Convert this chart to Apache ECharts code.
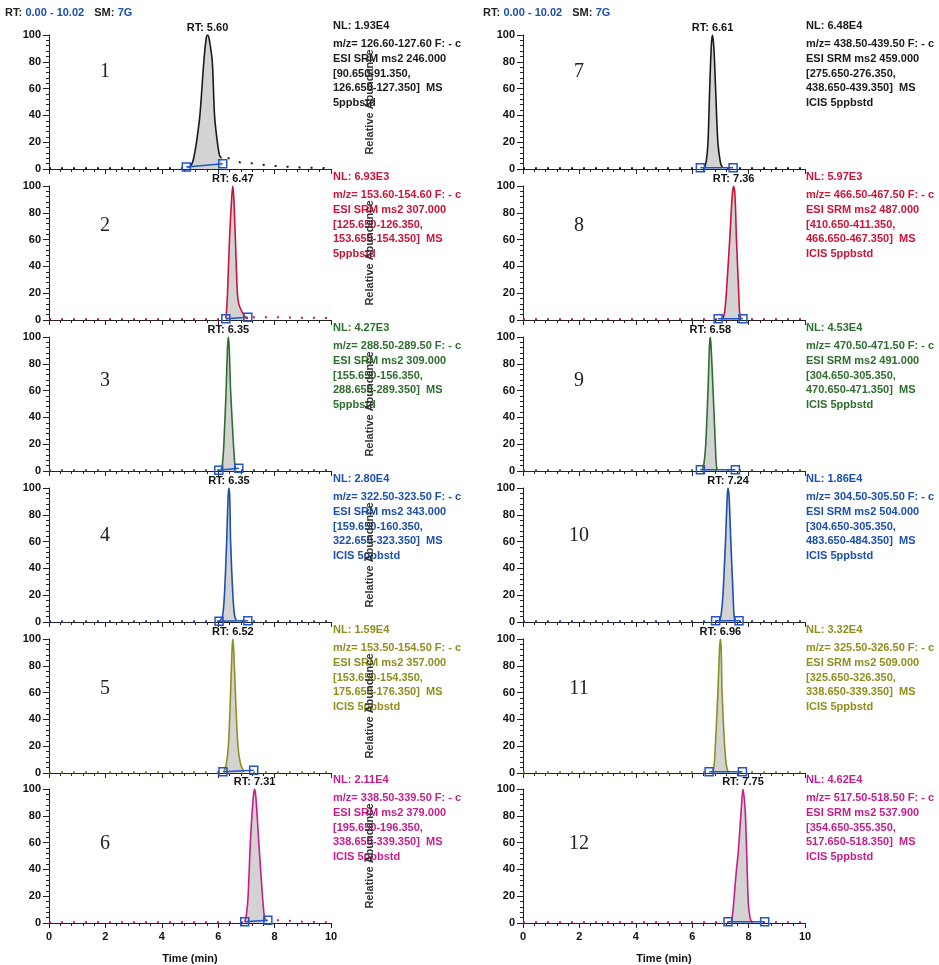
<!DOCTYPE html>
<html><head><meta charset="utf-8">
<script src="https://cdn.jsdelivr.net/npm/echarts@6/dist/echarts.min.js"></script>
<style>html,body{margin:0;padding:0;background:#fff}#c{width:939px;height:965px}</style>
</head><body><div id="c"></div>
<script>
// ---------- data ----------
const panelNames = ['1','2','3','4','5','6','7','8','9','10','11','12'];
const rtLabels = ['5.60','6.47','6.35','6.35','6.52','7.31','6.61','7.36','6.58','7.24','6.96','7.75'];
const nlLabels = ['1.93E4','6.93E3','4.27E3','2.80E4','1.59E4','2.11E4','6.48E4','5.97E3','4.53E4','1.86E4','3.32E4','4.62E4'];
const mzLabels = ['126.60-127.60','153.60-154.60','288.50-289.50','322.50-323.50','153.50-154.50','338.50-339.50',
                  '438.50-439.50','466.50-467.50','470.50-471.50','304.50-305.50','325.50-326.50','517.50-518.50'];
const precursorLabels = ['246.000','307.000','309.000','343.000','357.000','379.000',
                         '459.000','487.000','491.000','504.000','509.000','537.900'];
const rangeALabels = ['90.650-91.350','125.650-126.350','155.650-156.350','159.650-160.350','153.650-154.350','195.650-196.350',
                      '275.650-276.350','410.650-411.350','304.650-305.350','304.650-305.350','325.650-326.350','354.650-355.350'];
const rangeBLabels = ['126.650-127.350','153.650-154.350','288.650-289.350','322.650-323.350','175.650-176.350','338.650-339.350',
                      '438.650-439.350','466.650-467.350','470.650-471.350','483.650-484.350','338.650-339.350','517.650-518.350'];
const sampleLabels = ['5ppbstd','5ppbstd','5ppbstd','ICIS 5ppbstd','ICIS 5ppbstd','ICIS 5ppbstd',
                      'ICIS 5ppbstd','ICIS 5ppbstd','ICIS 5ppbstd','ICIS 5ppbstd','ICIS 5ppbstd','ICIS 5ppbstd'];
const timeRange = [0, 10];
const timeStep = 2;
const abundanceRange = [0, 100];
const abundanceStep = 20;

// peak traces [time (min), relative abundance %]
const peak1  = [[4.95,1],[5.05,3],[5.13,8],[5.23,20],[5.35,40],[5.49,80],[5.57,97],[5.62,100],[5.68,97],[5.79,80],[5.87,40],[5.97,20],[6.05,10],[6.12,8]];
const peak2  = [[6.27,1],[6.3,8],[6.33,20],[6.4,60],[6.48,92],[6.52,100],[6.56,88],[6.61,60],[6.68,20],[6.73,12],[6.8,8],[6.9,4],[7.0,1.5],[7.05,1]];
const peak3  = [[6.1,0.5],[6.15,5],[6.2,20],[6.28,60],[6.33,92],[6.36,100],[6.39,92],[6.44,60],[6.54,20],[6.59,5],[6.62,1]];
const peak4  = [[6.05,0.5],[6.15,4],[6.22,20],[6.3,60],[6.35,93],[6.38,100],[6.41,93],[6.44,60],[6.52,20],[6.58,5],[6.64,1]];
const peak5  = [[6.2,1],[6.28,6],[6.36,20],[6.44,60],[6.49,92],[6.52,100],[6.55,92],[6.61,60],[6.7,20],[6.8,6],[6.92,1]];
const peak6  = [[6.94,1],[7.0,6],[7.06,20],[7.14,60],[7.24,93],[7.29,100],[7.34,93],[7.44,60],[7.57,20],[7.63,6],[7.68,2]];
const peak7  = [[6.44,1],[6.5,6],[6.56,20],[6.62,60],[6.68,93],[6.72,100],[6.77,90],[6.83,60],[6.91,20],[7.0,5],[7.07,1]];
const peak8  = [[7.09,1],[7.15,6],[7.21,20],[7.33,60],[7.42,93],[7.47,100],[7.52,92],[7.57,60],[7.65,20],[7.68,6],[7.72,1]];
const peak9  = [[6.36,1],[6.42,6],[6.48,20],[6.56,60],[6.61,93],[6.64,100],[6.67,93],[6.74,60],[6.82,20],[6.85,6],[6.88,1]];
const peak10 = [[6.98,1],[7.03,6],[7.09,20],[7.18,60],[7.24,93],[7.27,100],[7.31,93],[7.37,60],[7.45,20],[7.48,6],[7.51,1]];
const peak11 = [[6.74,1],[6.78,6],[6.82,20],[6.91,60],[6.97,93],[7.0,100],[7.03,92],[7.06,60],[7.15,20],[7.21,6],[7.27,1]];
const peak12 = [[7.39,1],[7.45,10],[7.52,28],[7.57,40],[7.63,52],[7.73,82],[7.8,100],[7.85,92],[7.89,80],[7.95,40],[7.99,15],[8.05,4],[8.1,1]];

// baseline (outside the integrated peak)
const base1  = [[0,0.5],[4.87,0.5],[6.12,8],[6.41,8],[6.76,5],[7.23,4.2],[7.65,3],[8.06,2.2],[8.48,1.7],[8.9,1.2],[9.3,1],[10,0.5]];
const base2  = [[0,0.5],[6.27,0.5],[7.05,2],[8,2],[10,1.5]];
const base3  = [[0,0.5],[10,0.5]];
const base4  = [[0,0.5],[10,0.5]];
const base5  = [[0,0.5],[10,0.5]];
const base6  = [[0,0.5],[6.94,0.5],[7.76,2],[8.2,2],[8.6,1.5],[9,1],[10,0.5]];
const base7  = [[0,0.5],[10,0.5]];
const base8  = [[0,0.5],[10,0.5]];
const base9  = [[0,0.5],[10,0.5]];
const base10 = [[0,0.5],[10,0.5]];
const base11 = [[0,0.5],[10,0.5]];
const base12 = [[0,0.5],[10,0.5]];

// integration start / end markers
const integ1  = [[4.87,1.5],[6.16,4]];
const integ2  = [[6.27,1],[7.05,2]];
const integ3  = [[6.02,0.5],[6.73,2]];
const integ4  = [[6.03,0.5],[7.05,1]];
const integ5  = [[6.17,1],[7.26,2]];
const integ6  = [[6.94,1],[7.76,2]];
const integ7  = [[6.29,1],[7.45,1]];
const integ8  = [[6.92,1],[7.8,1]];
const integ9  = [[6.29,1],[7.53,1]];
const integ10 = [[6.83,1],[7.66,1]];
const integ11 = [[6.6,1],[7.78,1]];
const integ12 = [[7.27,1],[8.57,1]];

// ---------- layout / style ----------
const peaks = [peak1,peak2,peak3,peak4,peak5,peak6,peak7,peak8,peak9,peak10,peak11,peak12];
const bases = [base1,base2,base3,base4,base5,base6,base7,base8,base9,base10,base11,base12];
const integs = [integ1,integ2,integ3,integ4,integ5,integ6,integ7,integ8,integ9,integ10,integ11,integ12];
const rowColors = ['#1a1a1a','#cc1438','#2e6e2e','#1c4fae','#8f8f1f','#c61d8c'];
const rowTops = [35,186,337,488,639,789];
const numberY = [72,226,381,536,689,844];
const colLefts = [49,523];
const numberX = [105,579];
const infoX = [333,806];
const gridW = 282, gridH = 134;
const FONT = '"Liberation Sans", Arial, sans-serif';
const integColor = '#2454c8';

const grids = [], xAxes = [], yAxes = [], series = [], graphics = [];
for (let i = 0; i < 12; i++) {
  const col = i < 6 ? 0 : 1, row = i % 6, color = rowColors[row];
  const top = rowTops[row];
  grids.push({left: colLefts[col], top: top, width: gridW, height: gridH});
  xAxes.push({
    type: 'value', gridIndex: i, min: timeRange[0], max: timeRange[1], interval: timeStep,
    axisLine: {lineStyle: {color: '#222', width: 1}},
    axisTick: {show: true, length: 5, lineStyle: {color: '#222'}},
    minorTick: {show: true, splitNumber: 5, length: 3, lineStyle: {color: '#222'}},
    splitLine: {show: false}, minorSplitLine: {show: false},
    axisLabel: {show: row === 5, color: '#111', fontSize: 11, fontWeight: 'bold', fontFamily: FONT, margin: 8},
    name: row === 5 ? 'Time (min)' : '', nameLocation: 'middle', nameGap: 30,
    nameTextStyle: {color: '#111', fontSize: 11, fontWeight: 'bold', fontFamily: FONT}
  });
  yAxes.push({
    type: 'value', gridIndex: i, min: abundanceRange[0], max: abundanceRange[1], interval: abundanceStep,
    axisLine: {show: true, lineStyle: {color: '#222', width: 1}},
    axisTick: {show: true, length: 6, lineStyle: {color: '#222'}},
    minorTick: {show: true, splitNumber: 5, length: 3, lineStyle: {color: '#222'}},
    splitLine: {show: false}, minorSplitLine: {show: false},
    axisLabel: {color: '#111', fontSize: 11, fontWeight: 'bold', fontFamily: FONT, margin: 8}
  });
  series.push({
    type: 'line', xAxisIndex: i, yAxisIndex: i, data: bases[i], showSymbol: false, silent: true, z: 2,
    lineStyle: {color: color, width: 2, type: [2, 10]}
  });
  series.push({
    type: 'line', xAxisIndex: i, yAxisIndex: i, data: peaks[i], smooth: 0.3, showSymbol: false, silent: true, z: 3,
    lineStyle: {color: color, width: 1.6},
    areaStyle: {color: '#d3d3d3', opacity: 1},
    markPoint: {
      symbol: 'circle', symbolSize: 0, silent: true,
      data: [{type: 'max'}],
      label: {show: true, position: 'top', distance: 2, formatter: 'RT: ' + rtLabels[i],
              color: '#111', fontSize: 11, fontWeight: 'bold', fontFamily: FONT}
    }
  });
  series.push({
    type: 'line', xAxisIndex: i, yAxisIndex: i, data: integs[i], showSymbol: true, symbol: 'rect', symbolSize: 8,
    silent: true, z: 4,
    itemStyle: {color: 'rgba(255,255,255,0)', borderColor: integColor, borderWidth: 1.5},
    lineStyle: {color: integColor, width: 1.5}
  });
  // panel number
  graphics.push({type: 'text', x: numberX[col], y: numberY[row], silent: true,
    style: {text: panelNames[i], fill: '#222', font: '20px "Liberation Serif", "Times New Roman", serif',
            align: 'center', verticalAlign: 'middle'}});
  // info text
  graphics.push({type: 'text', x: infoX[col], y: top - 9, silent: true,
    style: {text: 'NL: ' + nlLabels[i], fill: color, font: 'bold 11px ' + FONT, align: 'left', verticalAlign: 'middle'}});
  graphics.push({type: 'text', x: infoX[col], y: top + 1.5, silent: true,
    style: {text: ['m/z= ' + mzLabels[i] + ' F: - c', 'ESI SRM ms2 ' + precursorLabels[i],
                   '[' + rangeALabels[i] + ',', rangeBLabels[i] + ']  MS', sampleLabels[i]].join('\n'),
            fill: color, font: 'bold 11px ' + FONT, lineHeight: 14.8, align: 'left', verticalAlign: 'top'}});
  if (col === 0) {
    graphics.push({type: 'text', x: 370, y: top + gridH / 2, rotation: Math.PI / 2, silent: true,
      style: {text: 'Relative Abundance', fill: '#333', font: 'bold 11px ' + FONT, align: 'center', verticalAlign: 'middle'}});
  }
}
// header
[5, 483].forEach(function (x) {
  graphics.push({type: 'text', x: x, y: 13, silent: true,
    style: {text: '{k|RT:} {v|0.00 - 10.02}   {k|SM:} {v|7G}', verticalAlign: 'middle', align: 'left',
      rich: {k: {fill: '#222', font: 'bold 11px ' + FONT}, v: {fill: '#1c4fae', font: 'bold 11px ' + FONT}}}});
});

const chart = echarts.init(document.getElementById('c'), null, {renderer: 'canvas'});
chart.setOption({
  animation: false,
  backgroundColor: '#ffffff',
  grid: grids, xAxis: xAxes, yAxis: yAxes, series: series, graphic: graphics
});
</script></body></html>
